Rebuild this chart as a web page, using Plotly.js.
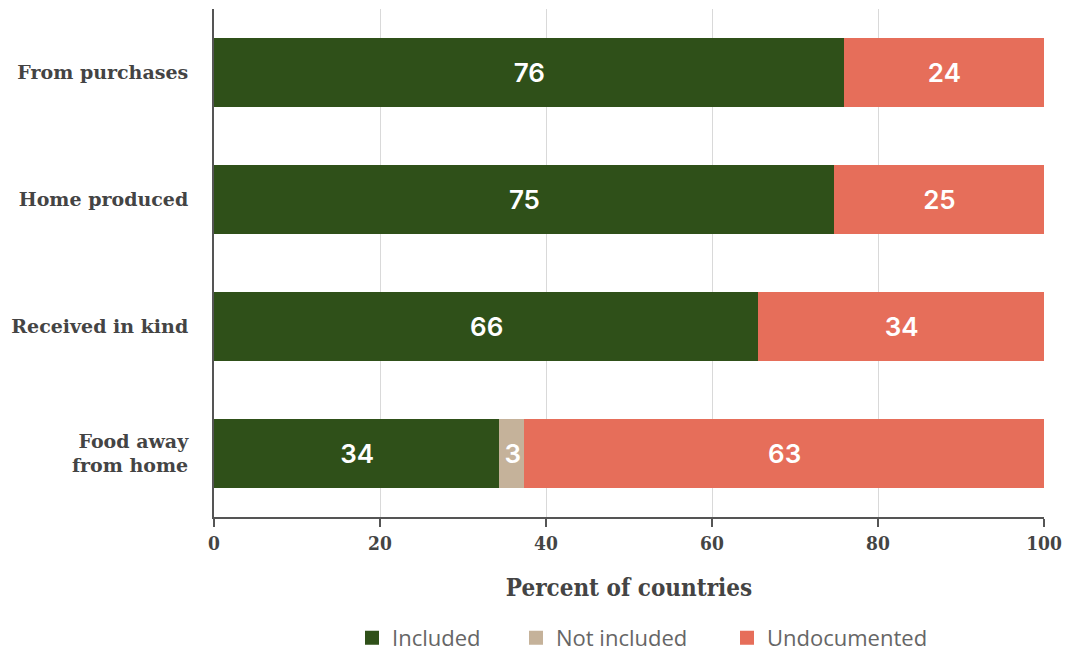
<!DOCTYPE html>
<html><head><meta charset="utf-8">
<script src="https://cdn.plot.ly/plotly-3.0.1.min.js"></script>
<style>html,body{margin:0;padding:0;background:#fff}#chart{width:1074px;height:652px}</style>
</head><body><div id="chart"></div>
<script>
const categories = ["From purchases", "Home produced", "Received in kind", "Food away<br>from home"];
const included = [76, 74.8, 65.7, 34.5];
const notIncluded = [0, 0, 0, 3];
const undocumented = [24, 25.2, 34.3, 62.5];
const includedLabels = ["76", "75", "66", "34"];
const notIncludedLabels = ["", "", "", "3"];
const undocumentedLabels = ["24", "25", "34", "63"];
const xTicks = [0, 20, 40, 60, 80, 100];

const textFont = {family: "Inter, 'Open Sans', sans-serif", size: 26, color: "#ffffff", weight: 600};
function mk(name, vals, labels, color, leg) {
  return {type: "bar", orientation: "h", name: name, y: categories, x: vals,
    text: labels, textposition: "inside", insidetextanchor: "middle", textangle: 0,
    insidetextfont: textFont, constraintext: "none", legend: leg,
    marker: {color: color, line: {width: 2, color: color}}, width: 0.53, hoverinfo: "x+name"};
}
const data = [
  mk("Included", included, includedLabels, "#2f5019", "legend"),
  mk("Not included", notIncluded, notIncludedLabels, "#c5b29a", "legend2"),
  mk("Undocumented", undocumented, undocumentedLabels, "#e66e5a", "legend3")
];
const serifC = "'DejaVu Serif Condensed', 'Liberation Serif', serif";
const legFont = {family: "'Open Sans', sans-serif", size: 22, color: "#666"};
function leg(x) {
  return {orientation: "h", x: x, xanchor: "left", xref: "container",
    y: 0.0215, yanchor: "middle", yref: "container", font: legFont, itemwidth: 30,
    bgcolor: "rgba(0,0,0,0)"};
}
const layout = {
  width: 1074, height: 652, barmode: "stack",
  margin: {l: 214, r: 30, t: 9, b: 135, autoexpand: false},
  paper_bgcolor: "#fff", plot_bgcolor: "#fff",
  showlegend: true,
  legend: leg(352 / 1074), legend2: leg(516 / 1074), legend3: leg(727 / 1074),
  xaxis: {range: [0, 100], tickvals: xTicks, ticktext: xTicks.map(String),
    automargin: false,
    showgrid: true, gridcolor: "#d9d9d9", gridwidth: 1, zeroline: false,
    showline: true, linecolor: "#555", linewidth: 2,
    ticks: "outside", ticklen: 8, tickwidth: 2, tickcolor: "#555",
    tickfont: {family: serifC, size: 19, color: "#444", weight: "bold"},
    title: {text: "Percent of countries", standoff: 26,
      font: {family: serifC, size: 24, color: "#444", weight: "bold"}},
    fixedrange: true},
  yaxis: {autorange: "reversed", showline: true, linecolor: "#555", linewidth: 2,
    automargin: false,
    showgrid: false, zeroline: false, ticks: "", ticklabelstandoff: 20,
    tickfont: {family: "'DejaVu Serif', 'Liberation Serif', serif", size: 19, color: "#444", weight: "bold"},
    fixedrange: true}
};
Plotly.newPlot("chart", data, layout, {displayModeBar: false, staticPlot: true});
</script></body></html>
